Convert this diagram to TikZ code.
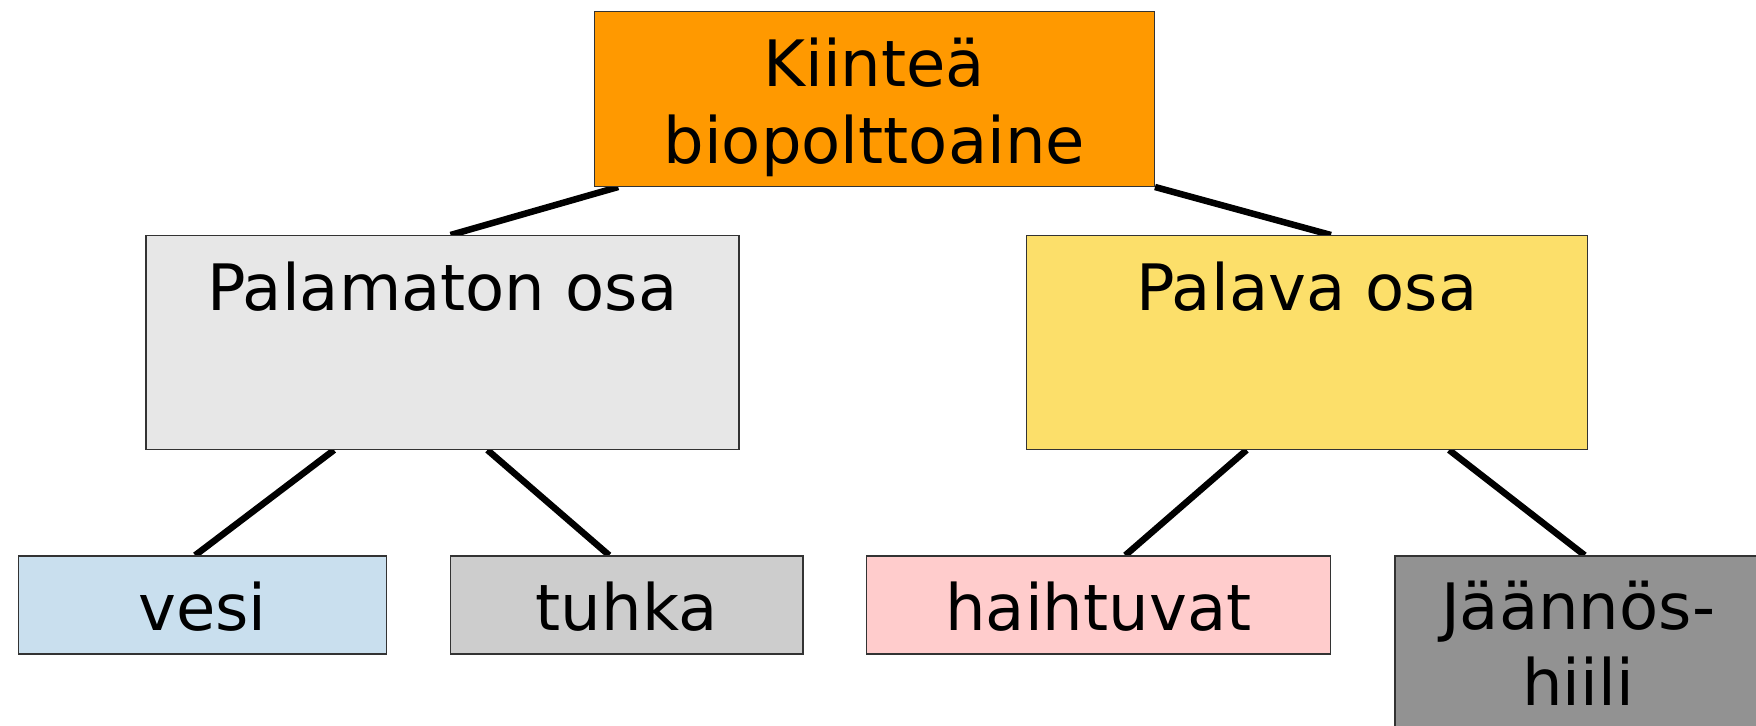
\documentclass[tikz,border=0pt]{standalone}
\usepackage{fontspec}
\setmainfont{DejaVu Sans}
\usepackage{tikz}
\usepackage{xcolor}
\usetikzlibrary{calc,backgrounds}
\definecolor{kiintea}{HTML}{FF9900}
\definecolor{palamaton}{HTML}{E7E7E7}
\definecolor{palava}{HTML}{FCDF6A}
\definecolor{vesi}{HTML}{C9DFEE}
\definecolor{tuhka}{HTML}{CDCDCD}
\definecolor{haihtuvat}{HTML}{FFCCCC}
\definecolor{hiili}{HTML}{929292}
\definecolor{reuna}{HTML}{333333}

\begin{document}
\begin{tikzpicture}[x=0.4pt,y=-0.4pt,
  box/.style={draw=reuna,line width=0.6pt,inner sep=0pt,anchor=north west,
    font=\fontsize{25.6pt}{30.7pt}\selectfont},
  osa/.style={box,text height=30pt,text depth=55.4pt},
  aine/.style={box,text height=29.9pt,text depth=9.3pt},
  link/.style={line width=2.6pt}]
\useasboundingbox(0,0)rectangle(1756,726);
\clip(0,0)rectangle(1756,726);
\node[box,fill=kiintea,align=center,minimum width=224pt,text height=60.7pt,text depth=9.1pt](top)at(593.5,11){Kiinteä\\biopolttoaine};
\node[osa,fill=palamaton,minimum width=237.2pt](pmt)at(145,235){Palamaton osa};
\node[osa,fill=palava,minimum width=224.4pt](pv)at(1025.5,235){Palava osa};
\node[aine,fill=vesi,minimum width=147.2pt](vesi)at(17.8,555.3){vesi};
\node[aine,fill=tuhka,minimum width=141pt](tuhka)at(449.5,555.3){tuhka};
\node[aine,fill=haihtuvat,minimum width=185.6pt](haiht)at(865.6,555.3){haihtuvat};
\node[box,fill=hiili,align=center,minimum width=146.4pt,text height=59.9pt,text depth=16pt](jaan)at(1394.3,555.3){Jäännös-\\hiili};
\begin{scope}[on background layer]
\draw[link]($(top.south west)!.044!(top.south east)$)--($(pmt.north west)!.514!(pmt.north east)$);
\draw[link](top.south east)--($(pv.north west)!.543!(pv.north east)$);
\draw[link]($(pmt.south west)!.318!(pmt.south east)$)--($(vesi.north west)!.48!(vesi.north east)$);
\draw[link]($(pmt.south west)!.576!(pmt.south east)$)--($(tuhka.north west)!.451!(tuhka.north east)$);
\draw[link]($(pv.south west)!.393!(pv.south east)$)--($(haiht.north west)!.558!(haiht.north east)$);
\draw[link]($(pv.south west)!.753!(pv.south east)$)--($(jaan.north west)!.518!(jaan.north east)$);
\end{scope}
\end{tikzpicture}
\end{document}
